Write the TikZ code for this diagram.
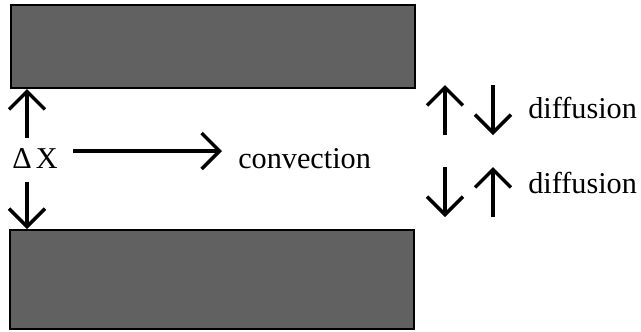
\documentclass[tikz,border=0pt]{standalone}
\usepackage{fontspec}
\setmainfont{Liberation Serif}
\usetikzlibrary{arrows.meta,positioning}

\tikzset{
  plate/.style={fill=black!62, draw=black, line width=1.8pt},
  flow/.style={line width=2.4pt, -{Straight Barb[length=0.45cm, width=0.9cm]}},
  lbl/.style={font=\fontsize{21.5}{25}\selectfont, inner sep=0pt},
}

\begin{document}
\begin{tikzpicture}[x=0.025cm, y=-0.025cm]
 \useasboundingbox (0,0) rectangle (641,331);
 % the two plates
 \filldraw[plate] (11,5) rectangle (415,88);
 \filldraw[plate] (10,230) rectangle (414,329);
 % labels
 \node[lbl, anchor=base west] (dx) at (12,168) {Δ\kern3pt X};
 \node[lbl, anchor=base west] (conv) at (238,168) {convection};
 \node[lbl, anchor=base west] (diffA) at (528,118) {diffusion};
 \node[lbl, anchor=base west] (diffB) at (528,193) {diffusion};
 % arrow ends
 \coordinate (gapA) at (27,138);
 \coordinate (wallA) at (27,89);
 \coordinate (gapB) at (27,182);
 \coordinate (wallB) at (27,229);
 \coordinate (convA) at (73,151);
 \coordinate (convB) at (222,151);
 \coordinate (upA) at (445,135);
 \coordinate (upB) at (445,85);
 \coordinate (dnA) at (493,85);
 \coordinate (dnB) at (493,135);
 \coordinate (loA) at (445,167);
 \coordinate (loB) at (445,217);
 \coordinate (liA) at (493,217);
 \coordinate (liB) at (493,167);
 \draw[flow] (gapA) -- (wallA);
 \draw[flow] (gapB) -- (wallB);
 \draw[flow] (convA) -- (convB);
 \draw[flow] (upA) -- (upB);
 \draw[flow] (dnA) -- (dnB);
 \draw[flow] (loA) -- (loB);
 \draw[flow] (liA) -- (liB);
\end{tikzpicture}
\end{document}
